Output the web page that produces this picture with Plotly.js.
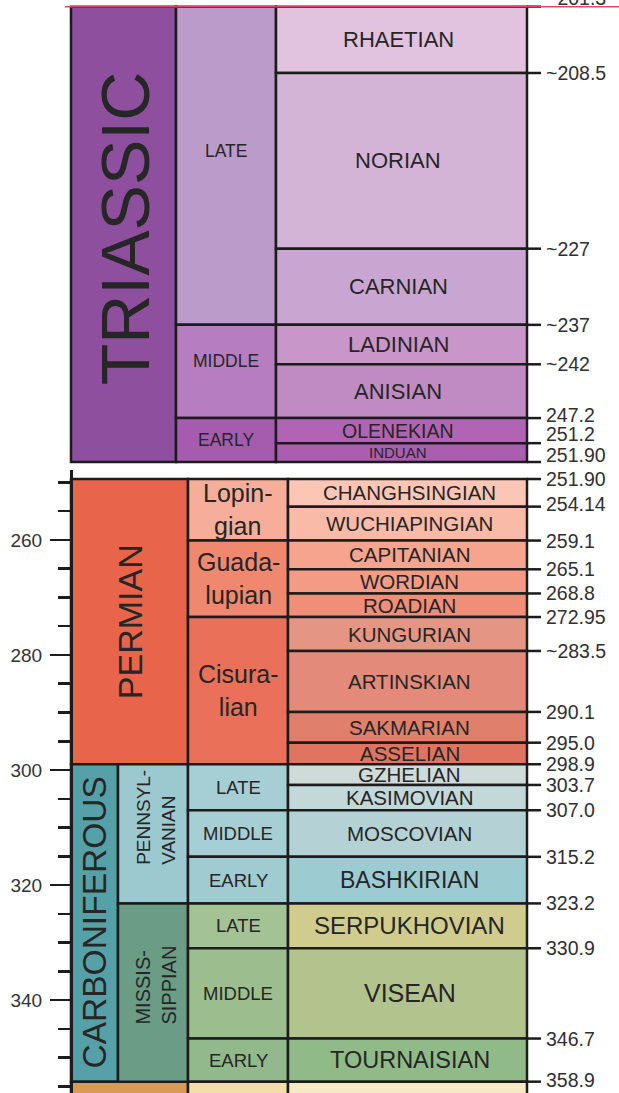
<!DOCTYPE html>
<html><head><meta charset="utf-8">
<script src="https://cdn.plot.ly/plotly-3.0.1.min.js"></script>
<style>html,body{margin:0;padding:0;background:#fff}#chart{width:619px;height:1093px}</style>
</head><body><div id="chart"></div>
<script>
// ================= DATA (ages in Ma) =================
// Upper panel : Triassic
const triPeriod = ['TRIASSIC'];
const triPeriodBounds = [201.1, 251.9];
const triEpochs = ['LATE', 'MIDDLE', 'EARLY'];
const triEpochBounds = [201.1, 236.6, 247.0, 251.9];
const triStages = ['RHAETIAN', 'NORIAN', 'CARNIAN', 'LADINIAN', 'ANISIAN', 'OLENEKIAN', 'INDUAN'];
const triStageBounds = [201.1, 208.5, 228.1, 236.6, 241.0, 247.0, 249.8, 251.9];
const triBoundaryLabels = ['~201.3', '~208.5', '~227', '~237', '~242', '247.2', '251.2', '251.90'];

// Lower panel : Permian, Carboniferous (and the top of the Devonian)
const lowPeriods = ['PERMIAN', 'CARBONIFEROUS', ''];
const lowPeriodBounds = [249.4, 299.0, 354.2, 372.2];
const carbSubperiods = ['PENNSYL-<br>VANIAN', 'MISSIS-<br>SIPPIAN'];
const carbSubperiodBounds = [299.0, 323.2, 354.2];
const lowEpochs = ['Lopin-<br>gian', 'Guada-<br>lupian', 'Cisura-<br>lian', 'LATE', 'MIDDLE', 'EARLY', 'LATE', 'MIDDLE', 'EARLY', ''];
const lowEpochBounds = [249.4, 260.1, 273.4, 299.0, 307.0, 315.1, 323.2, 331.0, 346.7, 354.2, 372.2];
const lowStages = ['CHANGHSINGIAN', 'WUCHIAPINGIAN', 'CAPITANIAN', 'WORDIAN', 'ROADIAN', 'KUNGURIAN', 'ARTINSKIAN',
  'SAKMARIAN', 'ASSELIAN', 'GZHELIAN', 'KASIMOVIAN', 'MOSCOVIAN', 'BASHKIRIAN', 'SERPUKHOVIAN', 'VISEAN', 'TOURNAISIAN', ''];
const lowStageBounds = [249.4, 254.2, 260.1, 265.1, 269.3, 273.4, 279.3, 289.9, 295.25, 299.0, 302.6, 307.0, 315.1,
  323.2, 331.0, 346.7, 354.2, 372.2];
const lowBoundaryLabels = ['251.90', '254.14', '259.1', '265.1', '268.8', '272.95', '~283.5', '290.1', '295.0', '298.9',
  '303.7', '307.0', '315.2', '323.2', '330.9', '346.7', '358.9'];

// ================= STYLE =================
const FONT = 'Liberation Sans, Arial, Helvetica, sans-serif';
const LINE = '#1c1c1c';
const TXT = '#262626';
const LW = 2.5;

const COL = {
  triPeriod: [71, 176], triEpoch: [176, 276], triStage: [276, 527],
  period: [71, 188], carbPeriod: [71, 118], carbSub: [118, 188], epoch: [188, 288], stage: [288, 527]
};
const TICK_X = [527, 541];
const LABEL_X = 544;

const triPeriodColors = ['#8D4F9E'];
const triEpochColors = ['#BA9BCA', '#B67EC0', '#A55CAE'];
const triStageColors = ['#E1C2DF', '#D4B4D6', '#C8A6D1', '#C896C8', '#C08BC3', '#B264B4', '#AA5EB0'];
const lowPeriodColors = ['#E8644A', '#56A1A7', '#D99A55'];
const lowPeriodCols = [COL.period, COL.carbPeriod, COL.period];
const carbSubColors = ['#9CC9CF', '#6A9C86'];
const lowEpochColors = ['#F6AE9A', '#F08870', '#EA705A', '#A6CFD5', '#A6CFD5', '#9FCBD1', '#A4C394', '#9CBE8E', '#92B98C', '#F3DEAA'];
const lowStageColors = ['#FBC6B6', '#F9BBA7', '#F6A48E', '#F39B85', '#F08E77', '#E59584', '#E38A7A', '#E17F6D', '#E07460',
  '#CFDBD9', '#C3D8D8', '#B4D2D6', '#9CCBD1', '#CFCC8E', '#B2C38D', '#90BB89', '#F6EAC6'];

const triStageSizes = [22, 22, 22, 22, 22, 19.5, 15];
const lowStageSizes = [20.5, 20.5, 20.5, 20.5, 20.5, 20.5, 20.5, 20.5, 20.5, 20.5, 20.5, 20.5, 23, 24, 25, 23.5, 12];
const lowEpochSizes = [25, 25, 25, 18.5, 18.5, 18.5, 18.5, 18.5, 18.5, 12];
const triEpochShift = [15, 10, 0];
const triLabelShift = [9, 0, 0, 0, 0, 3, 9, 7];
const lowLabelShift = [0, 3, 0, 0, 0, 0, 0, 0, 0, 0, 0, 0, 0, 0, 0, 0, 2];

// ================= BUILD =================
function bars(bounds, colors, cols, yaxis) {
  const x = [], w = [], base = [], h = [];
  for (let i = 0; i < bounds.length - 1; i++) {
    const c = Array.isArray(cols[0]) ? cols[i] : cols;
    x.push((c[0] + c[1]) / 2); w.push(c[1] - c[0]);
    base.push(bounds[i]); h.push(bounds[i + 1] - bounds[i]);
  }
  return { type: 'bar', x: x, y: h, base: base, width: w, yaxis: yaxis,
    marker: { color: colors, line: { color: LINE, width: LW } },
    hoverinfo: 'skip', showlegend: false, textposition: 'none' };
}
function ticks(bounds, yaxis) {
  const x = [], y = [];
  bounds.forEach(b => { x.push(TICK_X[0], TICK_X[1], null); y.push(b, b, null); });
  return { type: 'scatter', mode: 'lines', x: x, y: y, yaxis: yaxis,
    line: { color: LINE, width: LW }, hoverinfo: 'skip', showlegend: false };
}
const ann = [];
function cellLabels(names, bounds, cols, yref, sizes, opt) {
  opt = opt || {};
  names.forEach((n, i) => {
    if (!n) return;
    const c = Array.isArray(cols[0]) ? cols[i] : cols;
    ann.push({ text: n, x: (c[0] + c[1]) / 2, y: (bounds[i] + bounds[i + 1]) / 2, xref: 'x', yref: yref,
      showarrow: false, textangle: opt.angle || 0, align: opt.align || 'center',
      xshift: opt.xshift || 0, yshift: (opt.yshift ? opt.yshift[i] : 0),
      font: { family: FONT, size: Array.isArray(sizes) ? sizes[i] : sizes, color: TXT } });
  });
}
function ageLabels(labels, bounds, yref, shifts) {
  labels.forEach((t, i) => {
    ann.push({ text: t, x: LABEL_X, y: bounds[i], xref: 'x', yref: yref, xanchor: 'left', yanchor: 'middle',
      showarrow: false, yshift: shifts[i], font: { family: FONT, size: 19.5, color: '#303030' } });
  });
}

const data = [
  bars(triPeriodBounds, triPeriodColors, COL.triPeriod, 'y2'),
  bars(triEpochBounds, triEpochColors, COL.triEpoch, 'y2'),
  bars(triStageBounds, triStageColors, COL.triStage, 'y2'),
  ticks(triStageBounds, 'y2'),
  bars(lowPeriodBounds, lowPeriodColors, lowPeriodCols, 'y'),
  bars(carbSubperiodBounds, carbSubColors, COL.carbSub, 'y'),
  bars(lowEpochBounds, lowEpochColors, COL.epoch, 'y'),
  bars(lowStageBounds, lowStageColors, COL.stage, 'y'),
  ticks(lowStageBounds.slice(0, lowBoundaryLabels.length), 'y')
];

cellLabels(triPeriod, triPeriodBounds, COL.triPeriod, 'y2', 68, { angle: -90, xshift: 1.5, yshift: [6] });
cellLabels(triEpochs, triEpochBounds, COL.triEpoch, 'y2', 17.5, { yshift: triEpochShift });
cellLabels(triStages, triStageBounds, COL.triStage, 'y2', triStageSizes, { xshift: -3.5 });
ageLabels(triBoundaryLabels, triStageBounds, 'y2', triLabelShift);

cellLabels(lowPeriods, lowPeriodBounds, lowPeriodCols, 'y', [34, 33.5, 12], { angle: -90 });
cellLabels(carbSubperiods, carbSubperiodBounds, COL.carbSub, 'y', [19, 20], { angle: -90, align: 'left', xshift: 3, yshift: [16, 7] });
cellLabels(lowEpochs, lowEpochBounds, COL.epoch, 'y', lowEpochSizes);
cellLabels(lowStages, lowStageBounds, COL.stage, 'y', lowStageSizes, { xshift: 2 });
ageLabels(lowBoundaryLabels, lowStageBounds, 'y', lowLabelShift);

const H = 1093;
const layout = {
  width: 619, height: H, margin: { l: 0, r: 0, t: 0, b: 0 },
  paper_bgcolor: '#fff', plot_bgcolor: 'rgba(0,0,0,0)',
  barmode: 'overlay', bargap: 0, showlegend: false, hovermode: false,
  xaxis: { range: [0, 619], domain: [0, 1], visible: false, fixedrange: true },
  yaxis2: { domain: [1 - 466 / H, 1], range: [252.346, 200.356], visible: false, anchor: 'x', fixedrange: true },
  yaxis: {
    domain: [0, 1 - 470 / H], range: [356.17, 247.83], anchor: 'free', position: 71 / 619, side: 'left',
    showline: true, linecolor: LINE, linewidth: LW, showgrid: false, zeroline: false,
    ticks: 'outside', tickmode: 'linear', tick0: 0, dtick: 20, ticklen: 20, tickwidth: LW, tickcolor: LINE,
    ticklabelstandoff: 4,
    tickfont: { family: FONT, size: 19, color: '#333' },
    minor: { tickmode: 'linear', tick0: 0, dtick: 5, ticklen: 12, tickwidth: LW, tickcolor: LINE, showgrid: false },
    fixedrange: true
  },
  shapes: [{ type: 'line', xref: 'x', yref: 'y2', x0: 65, x1: 619, y0: triStageBounds[0], y1: triStageBounds[0],
    line: { color: '#e0485e', width: 1.5 }, layer: 'above' }],
  annotations: ann
};
Plotly.newPlot('chart', data, layout, { staticPlot: true, displayModeBar: false });
</script></body></html>
